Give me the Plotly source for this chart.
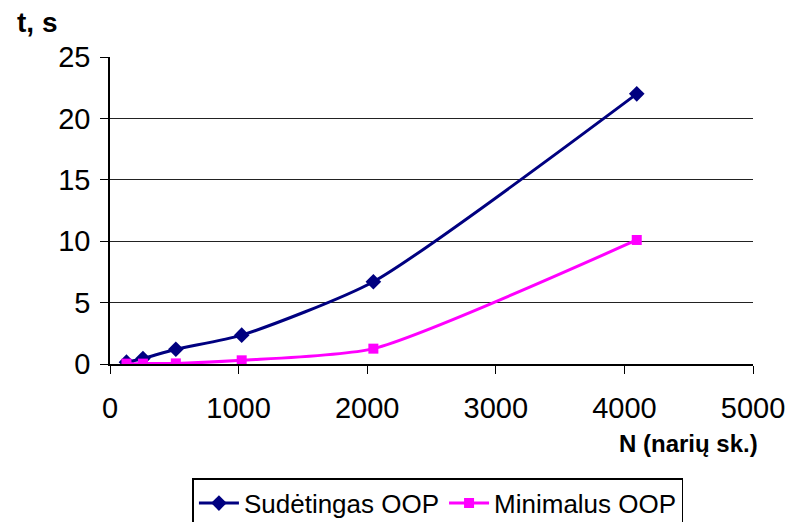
import plotly.graph_objects as go

n_values = [128, 256, 512, 1024, 2048, 4096]
sudetingas = [0.15, 0.45, 1.2, 2.35, 6.7, 22.0]
minimalus = [0.03, 0.03, 0.05, 0.3, 1.25, 10.1]

x_ticks = [0, 1000, 2000, 3000, 4000, 5000]
y_ticks = [0, 5, 10, 15, 20, 25]

font_family = "Liberation Sans, Arial, sans-serif"

fig = go.Figure()
fig.add_trace(go.Scatter(
    x=n_values, y=sudetingas, name="Sudėtingas OOP",
    mode="lines+markers", line=dict(color="#000080", width=3, shape="spline", smoothing=0.6),
    marker=dict(symbol="diamond", size=12, color="#000080"),
))
fig.add_trace(go.Scatter(
    x=n_values, y=minimalus, name="Minimalus OOP",
    mode="lines+markers", line=dict(color="#FF00FF", width=3, shape="spline", smoothing=0.6),
    marker=dict(symbol="square", size=10, color="#FF00FF"),
))

fig.update_layout(
    width=785, height=514,
    margin=dict(l=102, r=40, t=49, b=158, autoexpand=False),
    paper_bgcolor="white", plot_bgcolor="white",
    font=dict(family=font_family, size=29, color="black"),
    showlegend=True,
    legend=dict(
        orientation="h", x=0.51, xanchor="center", y=-0.372, yanchor="top",
        bordercolor="black", borderwidth=1.5, font=dict(size=26),
        itemwidth=40, tracegroupgap=0,
    ),
    xaxis=dict(
        range=[0, 5000], tickvals=x_ticks, ticks="outside", ticklen=8,
        tickcolor="black", showline=True, linecolor="black", linewidth=1.5,
        showgrid=False, zeroline=False, tickfont=dict(size=29), automargin=False,
        ticklabelstandoff=9,
    ),
    yaxis=dict(
        range=[0, 25], tickvals=y_ticks, ticks="outside", ticklen=8,
        tickcolor="black", showline=True, linecolor="black", linewidth=1.5,
        showgrid=True, gridcolor="#222222", gridwidth=1, zeroline=False,
        tickfont=dict(size=29), automargin=False, ticklabelstandoff=4,
    ),
    annotations=[
        dict(text="<b>t, s</b>", xref="paper", yref="paper", x=-0.148, y=1.114,
             xanchor="left", yanchor="middle", showarrow=False, font=dict(size=28)),
        dict(text="<b>N (narių sk.)</b>", xref="paper", yref="paper", x=1.011, y=-0.26,
             xanchor="right", yanchor="middle", showarrow=False, font=dict(size=24)),
    ],
)

fig.write_html("out.html")
